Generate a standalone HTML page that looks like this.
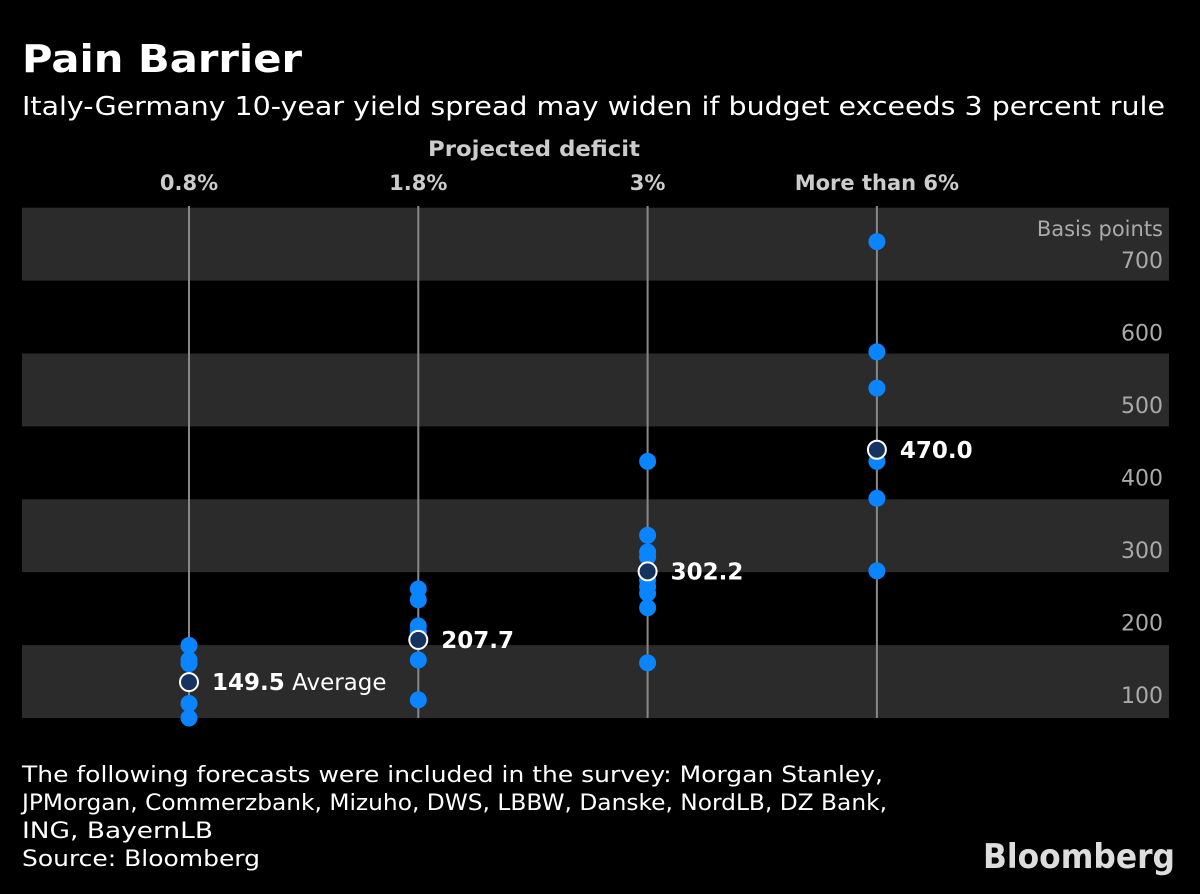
<!DOCTYPE html>
<html><head><meta charset="utf-8"><style>
body{margin:0;background:#000;width:1200px;height:890px;overflow:hidden;font-family:"DejaVu Sans","Liberation Sans",sans-serif;color:#fff}
</style></head><body>
<svg width="1200" height="890" xmlns="http://www.w3.org/2000/svg" font-family="DejaVu Sans, Liberation Sans, sans-serif">
<text x="22" y="72" font-size="38" font-weight="bold" fill="#fff" textLength="280" lengthAdjust="spacingAndGlyphs">Pain Barrier</text>
<text x="22" y="115" font-size="26" fill="#fff" textLength="1143" lengthAdjust="spacingAndGlyphs">Italy-Germany 10-year yield spread may widen if budget exceeds 3 percent rule</text>
<text x="428" y="156" font-size="21" font-weight="bold" fill="#ccc" textLength="212" lengthAdjust="spacingAndGlyphs">Projected deficit</text>
<g id="bands"></g><g id="cols"></g><g id="yt"></g><g id="pts"></g>
<text x="1163" y="236" font-size="21" fill="#aaa" text-anchor="end">Basis points</text>
<text x="22" y="782" font-size="22" fill="#fff" textLength="861" lengthAdjust="spacingAndGlyphs">The following forecasts were included in the survey: Morgan Stanley,</text>
<text x="22" y="810" font-size="22" fill="#fff" textLength="865" lengthAdjust="spacingAndGlyphs">JPMorgan, Commerzbank, Mizuho, DWS, LBBW, Danske, NordLB, DZ Bank,</text>
<text x="22" y="838" font-size="22" fill="#fff" textLength="191" lengthAdjust="spacingAndGlyphs">ING, BayernLB</text>
<text x="22" y="866" font-size="22" fill="#fff" textLength="238" lengthAdjust="spacingAndGlyphs">Source: Bloomberg</text>
<text x="983" y="868" font-size="34" font-weight="bold" fill="#ddd" textLength="192" lengthAdjust="spacingAndGlyphs">Bloomberg</text>
</svg>
<script>
const categories=["0.8%","1.8%","3%","More than 6%"];
const forecasts=[[200,180,175,120,100],[278,263,227,219,180,125],[454,352,329,322,290,281,272,252,176],[757,605,555,454,403,303]];
const averages=[149.5,207.7,302.2,470.0];
const yTicks=[100,200,300,400,500,600,700];
const NS="http://www.w3.org/2000/svg";
const y=v=>718-(v-100)*0.725;
const x=i=>189+i*229.3;
function mk(t,a,p){const e=document.createElementNS(NS,t);for(const k in a)e.setAttribute(k,a[k]);document.getElementById(p).appendChild(e);return e;}
for(let i=0;i<7;i++){if(i%2==0){const b=mk('rect',{x:22,y:718-72.9*(i+1),width:1147,height:72.9,fill:'#2b2b2b'},'bands');

}}
yTicks.forEach(v=>{const t=mk('text',{x:1163,y:y(v)-15,'font-size':22,fill:'#aaa','text-anchor':'end'},'yt');t.textContent=v;

});
categories.forEach((c,i)=>{const l=mk('line',{x1:x(i),x2:x(i),y1:206,y2:718,stroke:'#888','stroke-width':2},'cols');


const t=mk('text',{x:x(i),y:190,'font-size':21,'font-weight':'bold',fill:'#ccc','text-anchor':'middle'},'cols');t.textContent=c;


forecasts[i].forEach(v=>{const d=mk('circle',{cx:x(i),cy:y(v),r:8.5,fill:'#0a84ff'},'pts');

});});
averages.forEach((v,i)=>{const d=mk('circle',{cx:x(i),cy:y(v),r:9,fill:'#16325f',stroke:'#fff','stroke-width':2},'pts');


const t=mk('text',{x:x(i)+23,y:y(v)+8,'font-size':23,fill:'#fff'},'pts');


t.innerHTML='<tspan font-weight="bold">'+v.toFixed(1)+'</tspan>'+(i==0?' Average':'');});
</script>
</body></html>
